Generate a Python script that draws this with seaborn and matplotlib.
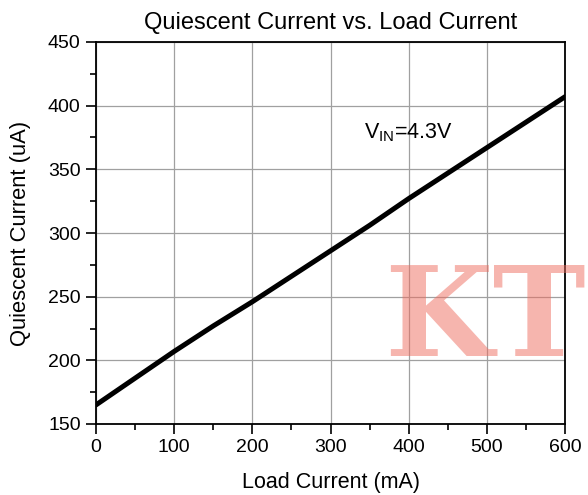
import matplotlib
matplotlib.use("Agg")
import matplotlib.pyplot as plt
import seaborn as sns
import pandas as pd
from matplotlib.ticker import MultipleLocator

load_current = [0, 50, 100, 150, 200, 250, 300, 350, 400, 450, 500, 550, 600]
quiescent = [165, 186, 207, 227, 246, 266, 286, 306, 327, 347, 367, 387, 407]

sns.set_theme(style="white")
plt.rcParams['font.family'] = ['Liberation Sans', 'DejaVu Sans']
plt.rcParams['mathtext.fontset'] = 'custom'
plt.rcParams['mathtext.rm'] = 'Liberation Sans'

df = pd.DataFrame({"x": load_current, "y": quiescent})

fig = plt.figure(figsize=(5.88, 4.95), dpi=100)
ax = fig.add_axes([96/588, 1-424/495, (565-96)/588, (424-42)/495])

ax.grid(True, color="#a0a0a0", linewidth=0.9)
ax.set_axisbelow(True)
sns.lineplot(data=df, x="x", y="y", ax=ax, color="black", linewidth=3.6)

ax.set_xlim(0, 600)
ax.set_ylim(150, 450)
ax.xaxis.set_major_locator(MultipleLocator(100))
ax.xaxis.set_minor_locator(MultipleLocator(50))
ax.yaxis.set_major_locator(MultipleLocator(50))
ax.yaxis.set_minor_locator(MultipleLocator(25))
ax.tick_params(which="major", direction="out", length=7, width=1.2, colors="black",
               labelsize=14, bottom=True, left=True, pad=4)
ax.tick_params(which="minor", direction="out", length=4, width=1.2, colors="black",
               bottom=True, left=True)
for s in ax.spines.values():
    s.set_color("black")
    s.set_linewidth(1.3)

ax.set_xlabel("Load Current (mA)", fontsize=15.5, labelpad=11, color="black")
ax.set_ylabel("Quiescent Current (uA)", fontsize=15.8, labelpad=12, color="black")
ax.set_title("Quiescent Current vs. Load Current", fontsize=17, pad=9, color="black")

ax.text(343, 374.5, r"V$_{\mathrm{IN}}$=4.3V", fontsize=15.5, color="black",
        ha="left", va="baseline")

fig.text(485/588, 1-322/495, "KT", fontsize=90, fontweight="bold",
         family=["DejaVu Serif"], color="#ee6c5e", alpha=0.5,
         ha="center", va="center")

fig.savefig("out.png", dpi=100)
